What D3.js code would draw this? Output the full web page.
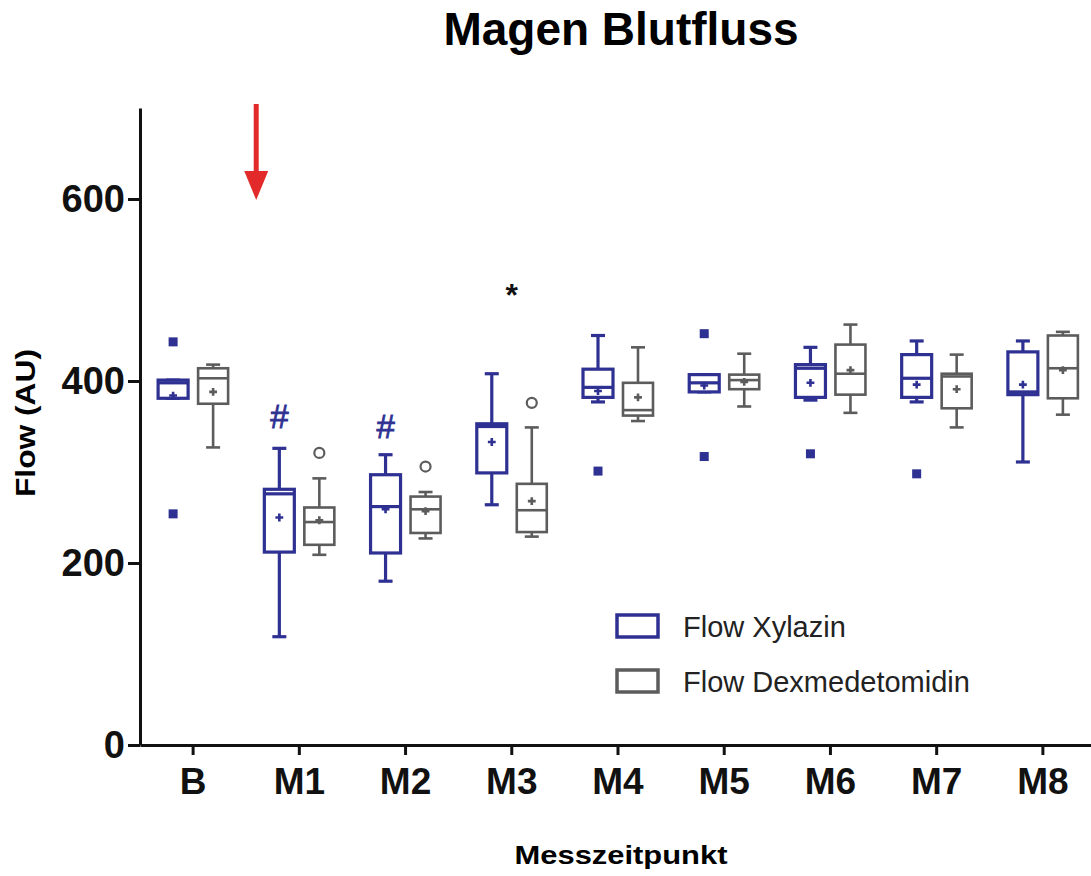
<!DOCTYPE html>
<html>
<head>
<meta charset="utf-8">
<script src="https://cdn.jsdelivr.net/npm/d3@7"></script>
<style>
  body { margin: 0; background: #fff; }
  svg { font-family: "Liberation Sans", Arial, Helvetica, sans-serif; }
</style>
</head>
<body>
<svg id="chart" width="1091" height="876"></svg>
<script>
const categories = ["B","M1","M2","M3","M4","M5","M6","M7","M8"];
const series = ["Flow Xylazin","Flow Dexmedetomidin"];

// Xylazin (blue)
const xylLo   = [381,119,180,264,377,388,379,377,311];
const xylQ1   = [381,212,211,299,382,388,382,382,385];
const xylMed  = [398,276,262,350,393,398,414,403,388];
const xylQ3   = [401,281,297,353,413,407,418,429,432];
const xylHi   = [401,326,319,408,450,407,437,444,444];
const xylMean = [384,250,259,333,389,395,398,396,396];
const xylOut  = [[443,254],[],[],[],[301],[452,317],[320],[298],[]];

// Dexmedetomidin (grey)
const dexLo   = [327,209,227,229,356,372,365,349,363];
const dexQ1   = [375,220,233,234,362,391,385,370,381];
const dexMed  = [403,245,259,258,368,401,408,405,414];
const dexQ3   = [414,261,273,287,398,407,440,408,450];
const dexHi   = [418,293,278,349,437,430,462,429,454];
const dexMean = [388,247,257,268,382,399,412,391,412];
const dexOut  = [[],[321],[306],[376],[],[],[],[],[]];

const yTicks = [0,200,400,600];
const marks = [{cat:"M1", s:0, txt:"#"},{cat:"M2", s:0, txt:"#"},{cat:"M3", s:-1, txt:"*"}];
const markVal = [348, 337, 482];

const blue = "#2e3192", grey = "#5c5c5c";

const svg = d3.select("#chart");
const x = d3.scaleBand().domain(categories).range([140, 1096]);
const sub = d3.scaleBand().domain(series).range([-40, 40]);
const y = d3.scaleLinear().domain([0, 700]).range([745, 108]);
const boxW = 30, capW = 14;

function build(lo,q1,med,q3,hi,mean,out,s){
  return categories.map((c,i)=>({cat:c, s:s, lo:lo[i], q1:q1[i], med:med[i], q3:q3[i], hi:hi[i], mean:mean[i], out:out[i]}));
}
const data = [
  build(xylLo,xylQ1,xylMed,xylQ3,xylHi,xylMean,xylOut,series[0]),
  build(dexLo,dexQ1,dexMed,dexQ3,dexHi,dexMean,dexOut,series[1])
];
const colour = d3.scaleOrdinal().domain(series).range([blue, grey]);

// title
svg.append("text").attr("x", 621).attr("y", 45).attr("text-anchor","middle")
  .attr("font-size", 46).attr("font-weight","bold").text("Magen Blutfluss");

// axes
const yAxis = svg.append("g").attr("transform","translate(140,0)")
  .call(d3.axisLeft(y).tickValues(yTicks).tickSize(12).tickSizeOuter(0).tickPadding(3));
const xAxis = svg.append("g").attr("transform","translate(0,745)")
  .call(d3.axisBottom(x).tickSize(10).tickSizeOuter(0).tickPadding(13));
[yAxis, xAxis].forEach(a=>{
  a.select(".domain").attr("stroke","#111").attr("stroke-width",3);
  a.selectAll(".tick line").attr("stroke","#111").attr("stroke-width",3);
  a.selectAll(".tick text").attr("fill","#111").attr("font-size",38).attr("font-weight","bold")
   .attr("font-family","'Liberation Sans', Arial, sans-serif");
});
xAxis.selectAll(".tick text").attr("font-size",37);

svg.append("text").attr("transform","translate(35,423) rotate(-90)").attr("text-anchor","middle")
  .attr("font-size",27).attr("font-weight","bold").attr("textLength",148).attr("lengthAdjust","spacingAndGlyphs")
  .text("Flow (AU)");
svg.append("text").attr("x",621).attr("y",864).attr("text-anchor","middle")
  .attr("font-size",26).attr("font-weight","bold").attr("textLength",213).attr("lengthAdjust","spacingAndGlyphs")
  .text("Messzeitpunkt");

// red arrow
const arrowX = (x("B") + x.bandwidth() + x("M1"))/2 + 10;
const arr = svg.append("g").attr("fill","#e32a2a").attr("stroke","#e32a2a");
arr.append("line").attr("x1",arrowX).attr("x2",arrowX).attr("y1",104).attr("y2",175).attr("stroke-width",5);
arr.append("path").attr("stroke","none")
  .attr("d",`M${arrowX-12},171 L${arrowX+12},171 L${arrowX},200 Z`);

// boxes
data.forEach(rows=>{
  const g = svg.append("g").selectAll("g").data(rows).join("g")
    .attr("transform", d=>`translate(${x(d.cat)+x.bandwidth()/2+sub(d.s)+sub.bandwidth()/2},0)`)
    .attr("stroke", d=>colour(d.s)).attr("fill","none");
  const sw = rows[0].s===series[0] ? 3.2 : 2.6;
  g.attr("stroke-width", sw);
  g.append("line").attr("x1",0).attr("x2",0).attr("y1",d=>y(d.hi)).attr("y2",d=>y(d.q3));
  g.append("line").attr("x1",0).attr("x2",0).attr("y1",d=>y(d.q1)).attr("y2",d=>y(d.lo));
  g.append("line").attr("x1",-capW/2).attr("x2",capW/2).attr("y1",d=>y(d.hi)).attr("y2",d=>y(d.hi));
  g.append("line").attr("x1",-capW/2).attr("x2",capW/2).attr("y1",d=>y(d.lo)).attr("y2",d=>y(d.lo));
  g.append("rect").attr("x",-boxW/2).attr("width",boxW)
    .attr("y",d=>y(d.q3)).attr("height",d=>y(d.q1)-y(d.q3)).attr("fill","#fff");
  g.append("line").attr("x1",-boxW/2).attr("x2",boxW/2).attr("y1",d=>y(d.med)).attr("y2",d=>y(d.med));
  g.append("path").attr("d",d3.symbol(d3.symbolCross, 34)()).attr("stroke","none")
    .attr("fill",d=>colour(d.s)).attr("transform",d=>`translate(0,${y(d.mean)})`);
  g.each(function(d){
    const sel = d3.select(this).selectAll(".out").data(d.out).join(d.s===series[0] ? "rect" : "circle").attr("class","out");
    if (d.s===series[0]) {
      sel.attr("x",-4.5).attr("width",9).attr("y",v=>y(v)-4.5).attr("height",9)
        .attr("fill",blue).attr("stroke","none");
    } else {
      sel.attr("cx",0).attr("cy",v=>y(v)).attr("r",5).attr("fill","#fff").attr("stroke-width",2.2);
    }
  });
});

// significance marks
svg.selectAll(".sig").data(marks).join("text").attr("class","sig")
  .attr("x", d=> d.s<0 ? x(d.cat)+x.bandwidth()/2 : x(d.cat)+x.bandwidth()/2+sub(series[d.s])+sub.bandwidth()/2)
  .attr("y", (d,i)=>y(markVal[i])).attr("text-anchor","middle")
  .attr("font-size", d=> d.txt==="*" ? 32 : 33)
  .attr("font-weight", d=> d.txt==="*" ? "bold" : "normal")
  .attr("stroke", d=> d.s<0 ? "none" : blue).attr("stroke-width",0.8)
  .attr("fill", d=> d.s<0 ? "#111" : blue).text(d=>d.txt);

// legend
const leg = svg.append("g").attr("transform","translate(615,0)");
const ly = [613, 668];
series.forEach((s,i)=>{
  leg.append("rect").attr("x",2).attr("y",ly[i]+2).attr("width",41).attr("height",22)
    .attr("fill","none").attr("stroke",colour(s)).attr("stroke-width",3.5);
  leg.append("text").attr("x",68).attr("y",ly[i]+24).attr("font-size",29).attr("fill","#222").text(s);
});
</script>
</body>
</html>
